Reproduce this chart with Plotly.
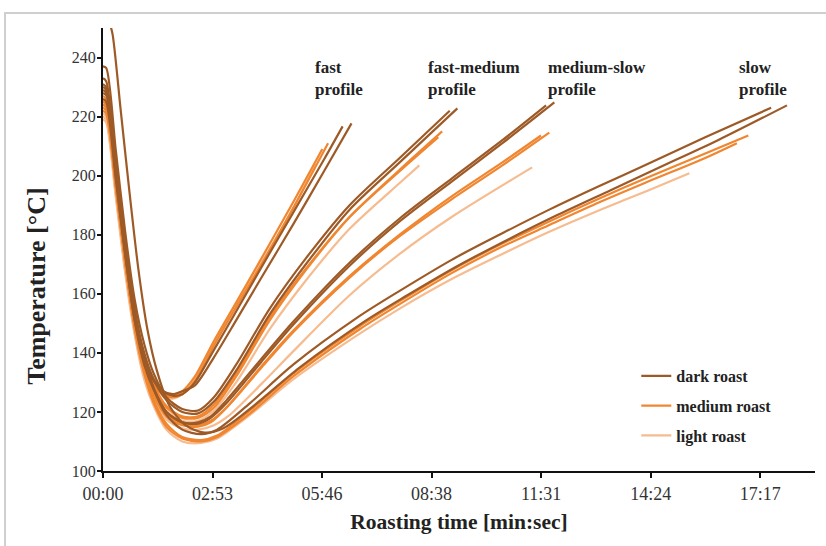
import plotly.graph_objects as go

# ---------------- data (time in seconds, temperature in °C) ----------------
x_tickvals = [0, 172.8, 345.6, 518.4, 691.2, 864.0, 1036.8]
x_ticktext = ["00:00", "02:53", "05:46", "08:38", "11:31", "14:24", "17:17"]
y_tickvals = [100, 120, 140, 160, 180, 200, 220, 240]

# fast profile
fast_dark1_t = [0, 5, 20, 35, 50, 65, 80, 95, 110, 125, 145, 175, 210, 250, 300, 350, 378]
fast_dark1_T = [231, 230, 203, 176, 153, 139, 131, 127, 125.5, 126, 130, 141, 154, 169, 187.5, 206, 216.7]
fast_dark2_t = [0, 6, 20, 35, 50, 65, 80, 95, 110, 125, 145, 175, 210, 250, 300, 350, 392]
fast_dark2_T = [228, 227, 201, 174, 151, 138, 130.5, 127, 126, 127, 129, 138.5, 151, 165.5, 183.5, 202, 217.7]
fast_med1_t = [0, 5, 20, 35, 50, 65, 80, 95, 110, 125, 145, 175, 210, 250, 300, 346]
fast_med1_T = [226, 225, 199, 172, 150, 137, 130, 126.5, 125.5, 127, 132, 144, 157, 172, 191, 209]
fast_med2_t = [0, 5, 20, 35, 50, 65, 80, 95, 110, 125, 145, 175, 210, 250, 300, 355]
fast_med2_T = [224, 223, 197, 171, 149, 136, 129, 126, 125, 126, 130.5, 142.5, 155.5, 170, 189, 211]
fast_light_t = [0, 5, 20, 35, 50, 65, 80, 95, 110, 125, 145, 175, 210, 250, 300, 335]
fast_light_T = [222, 221, 196, 170, 148, 135, 128.5, 125.5, 124.5, 126, 131, 143, 156, 170.5, 189, 204]

# fast-medium profile
fm_dark1_t = [0, 5, 20, 35, 50, 65, 80, 100, 125, 150, 175, 210, 263, 320, 389, 468, 547]
fm_dark1_T = [237, 236.5, 209, 181, 158, 143, 133, 125, 121, 120.5, 125, 136, 155, 172, 190, 206, 222]
fm_dark2_t = [0, 5, 20, 35, 50, 65, 80, 100, 125, 150, 175, 210, 263, 320, 389, 468, 559]
fm_dark2_T = [230, 229, 203, 176, 154, 140, 131, 124, 120, 119.5, 123.5, 134, 153, 170, 188.5, 204.5, 222.8]
fm_med1_t = [0, 5, 20, 35, 50, 65, 80, 100, 125, 150, 175, 210, 263, 320, 389, 468, 529]
fm_med1_T = [227, 226, 200, 173, 151, 137, 129, 122, 118.5, 118.5, 122.5, 133, 152, 168.5, 186, 201.5, 213]
fm_med2_t = [0, 5, 20, 35, 50, 65, 80, 100, 125, 150, 175, 210, 263, 320, 389, 468, 535]
fm_med2_T = [225, 224, 198, 172, 150, 136, 128, 121.5, 118, 118, 121.5, 132, 151, 168, 186, 202, 215]
fm_light_t = [0, 5, 20, 35, 50, 65, 80, 100, 125, 150, 175, 210, 263, 320, 389, 468, 499]
fm_light_T = [221, 220, 195, 169, 148, 134, 126.5, 120.5, 117, 117, 120.5, 130, 148, 164.5, 182, 197.5, 203.5]

# medium-slow profile
ms_dark1_t = [0, 5, 20, 35, 50, 65, 80, 100, 125, 150, 170, 195, 250, 300, 389, 468, 550, 630, 712]
ms_dark1_T = [229, 228, 201, 174, 152, 137, 128, 120, 116.5, 116, 118, 123, 137, 149.5, 169.5, 184.5, 198, 211, 224.8]
ms_dark2_t = [0, 5, 20, 35, 50, 65, 80, 100, 125, 150, 170, 195, 250, 300, 389, 468, 550, 630, 699]
ms_dark2_T = [226, 225, 199, 173, 151, 136, 127.5, 120, 116.5, 116.5, 118.5, 124, 138, 150.5, 170.5, 185.5, 199, 212, 223.8]
ms_med1_t = [0, 5, 20, 35, 50, 65, 80, 100, 125, 150, 170, 195, 250, 300, 389, 468, 550, 630, 704]
ms_med1_T = [225, 224, 198, 172, 150, 135, 126, 119, 116, 115.5, 117, 121.5, 135, 147, 165.5, 179.5, 192, 203.5, 214.6]
ms_med2_t = [0, 5, 20, 35, 50, 65, 80, 100, 125, 150, 170, 195, 250, 300, 389, 468, 550, 630, 691]
ms_med2_T = [223, 222, 197, 171, 149, 134, 125.5, 118.5, 115.5, 115, 116.5, 121.5, 135.5, 147.5, 166, 180, 193, 204.5, 213.6]
ms_light_t = [0, 5, 20, 35, 50, 65, 80, 100, 125, 150, 175, 200, 250, 300, 389, 468, 550, 677]
ms_light_T = [220, 219, 194, 168, 147, 132, 124, 117.5, 114.5, 114, 115.5, 119, 129.5, 140.5, 159.5, 173.5, 186, 202.8]

# slow profile
slow_dark1_t = [0, 5, 20, 35, 50, 65, 80, 100, 125, 155, 180, 232, 300, 405, 468, 550, 630, 704, 783, 860, 950, 1054]
slow_dark1_T = [233, 232, 205, 178, 155, 139, 128, 119, 114, 112.5, 114, 123, 136, 152.5, 161, 171.5, 180.5, 188.5, 196.5, 204, 213, 223]
slow_dark2_t = [10, 15, 28, 42, 56, 70, 85, 105, 130, 160, 190, 240, 310, 415, 480, 560, 640, 715, 800, 880, 970, 1079]
slow_dark2_T = [252, 248, 222, 194, 168, 148, 134, 122, 115.5, 113, 114.5, 122.5, 135, 151, 159.5, 169.5, 178.5, 186.5, 195, 203, 212, 223.8]
slow_med1_t = [0, 5, 20, 35, 50, 65, 80, 100, 125, 155, 180, 232, 300, 405, 468, 550, 630, 704, 783, 860, 950, 1018]
slow_med1_T = [224, 223, 197, 171, 149, 134, 124, 116, 111.5, 110.5, 112, 120.5, 133, 149, 157.5, 168, 177, 184.5, 192.3, 199.5, 207.5, 213.6]
slow_med2_t = [0, 5, 20, 35, 50, 65, 80, 100, 125, 155, 180, 232, 300, 405, 468, 550, 630, 704, 783, 860, 950, 1000]
slow_med2_T = [222, 221, 196, 170, 148, 133, 123, 115, 111, 110, 111.5, 119.5, 132, 148, 156.5, 167, 176, 183.3, 191, 198, 206, 211]
slow_light_t = [0, 5, 20, 35, 50, 65, 80, 100, 125, 155, 180, 232, 300, 405, 468, 550, 630, 704, 783, 860, 925]
slow_light_T = [219, 218, 193, 167, 146, 131, 122, 114, 110, 109.5, 111, 119, 131, 146.5, 155, 165, 173.5, 181, 188.3, 195, 200.8]

roast_names = ["dark roast", "medium roast", "light roast"]
roast_colors = ["#9e5a26", "#f08630", "#f6bc90"]

profile_labels = ["fast<br>profile", "fast-medium<br>profile", "medium-slow<br>profile", "slow<br>profile"]
profile_label_t = [332, 509, 699, 1000]
profile_label_T = 233

curves_light = [(fast_light_t, fast_light_T), (fm_light_t, fm_light_T),
                (ms_light_t, ms_light_T), (slow_light_t, slow_light_T)]
curves_med = [(fast_med1_t, fast_med1_T), (fast_med2_t, fast_med2_T),
              (fm_med1_t, fm_med1_T), (fm_med2_t, fm_med2_T),
              (ms_med1_t, ms_med1_T), (ms_med2_t, ms_med2_T),
              (slow_med1_t, slow_med1_T), (slow_med2_t, slow_med2_T)]
curves_dark = [(fast_dark1_t, fast_dark1_T), (fast_dark2_t, fast_dark2_T),
               (fm_dark1_t, fm_dark1_T), (fm_dark2_t, fm_dark2_T),
               (ms_dark1_t, ms_dark1_T), (ms_dark2_t, ms_dark2_T),
               (slow_dark1_t, slow_dark1_T), (slow_dark2_t, slow_dark2_T)]

FONT = "Liberation Serif"
fig = go.Figure()

def add_group(curves, name, color, rank):
    for i, (t, T) in enumerate(curves):
        fig.add_trace(go.Scatter(
            x=t, y=T, mode="lines", name=name, legendgroup=name,
            showlegend=(i == 0), legendrank=rank,
            line=dict(color=color, width=2.2, shape="spline", smoothing=0.8),
            hoverinfo="skip"))

add_group(curves_light, roast_names[2], roast_colors[2], 3)
add_group(curves_med, roast_names[1], roast_colors[1], 2)
add_group(curves_dark, roast_names[0], roast_colors[0], 1)

for txt, xv in zip(profile_labels, profile_label_t):
    fig.add_annotation(x=xv, y=profile_label_T, xref="x", yref="y", text=txt, showarrow=False,
                       xanchor="left", yanchor="middle", align="left",
                       font=dict(family=FONT, size=17, color="#222", weight="bold"))

# y-axis title (placed as rotated text)
fig.add_annotation(x=-0.0927, y=0.418, xref="paper", yref="paper", text="Temperature [°C]",
                   textangle=-90, showarrow=False, xanchor="center", yanchor="middle",
                   font=dict(family=FONT, size=26, color="#222", weight="bold"))

fig.add_shape(type="rect", xref="paper", yref="paper", x0=-0.1376, x1=1.05, y0=-0.3, y1=1.034,
              line=dict(color="#cfcfcf", width=2), layer="below")

fig.update_layout(
    width=826, height=546,
    margin=dict(l=103, r=11, t=28, b=75),
    plot_bgcolor="white", paper_bgcolor="white",
    font=dict(family=FONT, color="#333"),
    showlegend=True,
    legend=dict(x=0.749, y=0.253, xanchor="left", yanchor="top",
                font=dict(family=FONT, size=16, color="#222", weight="bold"),
                tracegroupgap=6, itemwidth=30, bgcolor="rgba(0,0,0,0)",
                traceorder="grouped"),
    xaxis=dict(range=[0, 1123.2], tickvals=x_tickvals, ticktext=x_ticktext,
               showgrid=False, zeroline=False, showline=True, linecolor="#111", linewidth=2,
               ticks="outside", ticklen=5, tickwidth=2, tickcolor="#111",
               tickfont=dict(family=FONT, size=18, color="#333"),
               title=dict(text="Roasting time [min:sec]", standoff=11,
                          font=dict(family=FONT, size=21.5, color="#222", weight="bold"))),
    yaxis=dict(range=[100, 250], tickvals=y_tickvals,
               showgrid=False, zeroline=False, showline=True, linecolor="#111", linewidth=2,
               ticks="outside", ticklen=4, tickwidth=2, tickcolor="#111",
               ticklabelstandoff=-2,
               tickfont=dict(family=FONT, size=16, color="#333")),
)

fig.write_html("out.html")
